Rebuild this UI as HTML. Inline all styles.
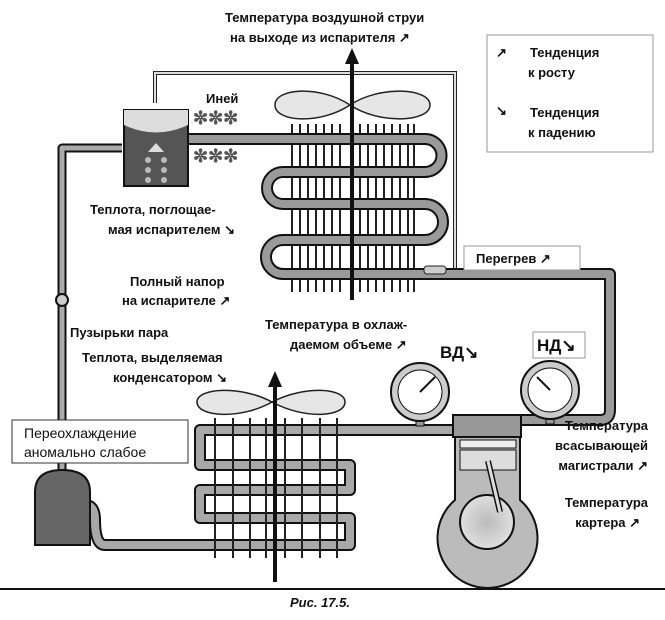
<!DOCTYPE html>
<html><head><meta charset="utf-8"><style>
body{margin:0;background:#fff;}
svg text{font-family:"Liberation Sans",sans-serif;font-weight:bold;font-size:13px;fill:#111;}
</style></head><body>
<svg width="665" height="615" viewBox="0 0 665 615" xmlns="http://www.w3.org/2000/svg">
<defs><radialGradient id="g" cx="50%" cy="50%" r="60%"><stop offset="0" stop-color="#bbb"/><stop offset="1" stop-color="#e6e6e6"/></radialGradient></defs>
<rect width="665" height="615" fill="#fff"/>
<!-- thin capillary line -->
<path d="M155 103 V73 H455 V270" fill="none" stroke="#222" stroke-width="4"/>
<path d="M155 103 V73 H455 V270" fill="none" stroke="#ddd" stroke-width="2"/>
<!-- evaporator fins -->
<g stroke="#222" stroke-width="2">
<line x1="292" y1="124" x2="292" y2="292"/><line x1="300" y1="124" x2="300" y2="292"/><line x1="308" y1="124" x2="308" y2="292"/><line x1="316" y1="124" x2="316" y2="292"/><line x1="324" y1="124" x2="324" y2="292"/><line x1="332" y1="124" x2="332" y2="292"/><line x1="340" y1="124" x2="340" y2="292"/><line x1="360" y1="124" x2="360" y2="292"/><line x1="368" y1="124" x2="368" y2="292"/><line x1="376" y1="124" x2="376" y2="292"/><line x1="384" y1="124" x2="384" y2="292"/><line x1="392" y1="124" x2="392" y2="292"/><line x1="400" y1="124" x2="400" y2="292"/><line x1="408" y1="124" x2="408" y2="292"/><line x1="414" y1="124" x2="414" y2="292"/>
</g>
<!-- pipes -->
<g fill="none" stroke-linejoin="round">
<path id="ev" d="M188 139 H425 A16.5 16.5 0 0 1 425 172 H283 A16 16 0 0 0 283 204 H425 A18 18 0 0 1 425 240 H283 A17 17 0 0 0 283 274 H610 V410 Q610 420 600 420 H520" stroke="#111" stroke-width="12"/>
<path d="M188 139 H425 A16.5 16.5 0 0 1 425 172 H283 A16 16 0 0 0 283 204 H425 A18 18 0 0 1 425 240 H283 A17 17 0 0 0 283 274 H610 V410 Q610 420 600 420 H520" stroke="#9a9a9a" stroke-width="8"/>
<path d="M62 470 V148 H122" stroke="#111" stroke-width="9"/>
<path d="M62 470 V148 H122" stroke="#aaa" stroke-width="5"/>
<path d="M455 430 H200 V465 H350 V490 H200 V518 H350 V545 H105 Q95 545 95 520 Q95 505 85 505" stroke="#111" stroke-width="12"/>
<path d="M455 430 H200 V465 H350 V490 H200 V518 H350 V545 H105 Q95 545 95 520 Q95 505 85 505" stroke="#a8a8a8" stroke-width="8"/>
</g>
<!-- condenser fins -->
<g stroke="#222" stroke-width="2">
<line x1="215" y1="418" x2="215" y2="558"/><line x1="233" y1="418" x2="233" y2="558"/><line x1="250" y1="418" x2="250" y2="558"/><line x1="266" y1="418" x2="266" y2="558"/><line x1="285" y1="418" x2="285" y2="558"/><line x1="302" y1="418" x2="302" y2="558"/><line x1="320" y1="418" x2="320" y2="558"/><line x1="337" y1="418" x2="337" y2="558"/>
</g>
<!-- bulb -->
<rect x="424" y="266" width="22" height="8" rx="3" fill="#ccc" stroke="#222"/>
<!-- fans -->
<path d="M350 105 C320 85 275 88 275 105 C275 122 320 125 350 105 C380 85 430 88 430 105 C430 122 380 125 350 105Z" fill="#e6e6e6" stroke="#222" stroke-width="1.5"/>
<path d="M272 402 C240 385 197 388 197 402 C197 417 240 420 272 402 C305 385 345 388 345 402 C345 417 305 420 272 402Z" fill="#e6e6e6" stroke="#222" stroke-width="1.5"/>
<!-- air arrows -->
<line x1="352" y1="62" x2="352" y2="300" stroke="#111" stroke-width="4"/>
<polygon points="352,48 345,64 359,64" fill="#111"/>
<line x1="275" y1="385" x2="275" y2="582" stroke="#111" stroke-width="4"/>
<polygon points="275,371 268,387 282,387" fill="#111"/>
<!-- valve -->
<rect x="124" y="110" width="64" height="76" fill="#555" stroke="#111" stroke-width="2"/>
<path d="M124 110 H188 V125 Q156 140 124 125Z" fill="#ddd"/>
<polygon points="156,143 148,152 164,152" fill="#ddd"/>
<g fill="#bbb"><circle cx="148" cy="160" r="3"/><circle cx="164" cy="160" r="3"/><circle cx="148" cy="170" r="3"/><circle cx="164" cy="170" r="3"/><circle cx="148" cy="180" r="3"/><circle cx="164" cy="180" r="3"/></g>
<!-- frost -->
<g fill="#555" font-size="18"><text x="193" y="124" style="font-size:18px;fill:#555">✼✼✼</text><text x="193" y="162" style="font-size:18px;fill:#555">✼✼✼</text></g>
<!-- sight glass -->
<circle cx="62" cy="300" r="6" fill="#ccc" stroke="#111" stroke-width="2"/>
<!-- receiver -->
<path d="M35 545 V492 Q35 470 62 470 Q90 470 90 492 V545Z" fill="#666" stroke="#111" stroke-width="2"/>
<!-- compressor -->
<rect x="453" y="415" width="68" height="22" fill="#999" stroke="#111" stroke-width="2"/>
<path d="M455 437 H520 V500 A50 50 0 1 1 455 500Z" fill="#bbb" stroke="#111" stroke-width="2"/>
<rect x="460" y="440" width="56" height="8" fill="#eee" stroke="#111"/>
<rect x="460" y="450" width="56" height="20" fill="#ddd" stroke="#111"/>
<circle cx="487" cy="522" r="27" fill="url(#g)" stroke="#111" stroke-width="2"/>
<line x1="488" y1="461" x2="500" y2="512" stroke="#111" stroke-width="6"/>
<line x1="488" y1="461" x2="500" y2="512" stroke="#ddd" stroke-width="3"/>
<!-- gauges -->
<g stroke="#111">
<rect x="416" y="418" width="8" height="8" fill="#999"/>
<circle cx="420" cy="392" r="29" fill="#ccc" stroke-width="2"/>
<circle cx="420" cy="392" r="22" fill="#fff"/>
<line x1="420" y1="392" x2="435" y2="377" stroke-width="2"/>
<rect x="546" y="416" width="8" height="8" fill="#999"/>
<circle cx="550" cy="390" r="29" fill="#ccc" stroke-width="2"/>
<circle cx="550" cy="390" r="22" fill="#fff"/>
<line x1="550" y1="390" x2="537" y2="377" stroke-width="2"/>
</g>
<!-- legend -->
<rect x="487" y="35" width="166" height="117" fill="#fff" stroke="#999"/>
<text x="496" y="57">↗</text><text x="530" y="57">Тенденция</text><text x="528" y="77">к росту</text>
<text x="496" y="115">↘</text><text x="530" y="117">Тенденция</text><text x="528" y="137">к падению</text>
<!-- labels -->
<text x="225" y="22">Температура воздушной струи</text>
<text x="230" y="42">на выходе из испарителя ↗</text>
<text x="206" y="103">Иней</text>
<text x="90" y="214">Теплота, поглощае-</text>
<text x="108" y="234">мая испарителем ↘</text>
<text x="130" y="286">Полный напор</text>
<text x="122" y="305">на испарителе ↗</text>
<text x="70" y="337">Пузырьки пара</text>
<text x="82" y="362">Теплота, выделяемая</text>
<text x="113" y="382">конденсатором ↘</text>
<text x="265" y="329">Температура в охлаж-</text>
<text x="290" y="349">даемом объеме ↗</text>
<text x="440" y="358" style="font-size:17px">ВД↘</text>
<rect x="533" y="332" width="52" height="26" fill="#fff" stroke="#999"/>
<text x="537" y="351" style="font-size:17px">НД↘</text>
<rect x="464" y="246" width="116" height="24" fill="#fff" stroke="#999"/>
<text x="476" y="263">Перегрев ↗</text>
<rect x="12" y="420" width="176" height="43" fill="#fff" stroke="#333"/>
<text x="24" y="438" style="font-weight:normal;font-size:14px">Переохлаждение</text>
<text x="24" y="457" style="font-weight:normal;font-size:14px">аномально слабое</text>
<text x="648" y="430" text-anchor="end">Температура</text>
<text x="648" y="450" text-anchor="end">всасывающей</text>
<text x="648" y="470" text-anchor="end">магистрали ↗</text>
<text x="648" y="507" text-anchor="end">Температура</text>
<text x="640" y="527" text-anchor="end">картера ↗</text>
<line x1="0" y1="589" x2="665" y2="589" stroke="#111" stroke-width="2"/>
<text x="290" y="607" style="font-style:italic">Рис. 17.5.</text>
</svg>
</body></html>
